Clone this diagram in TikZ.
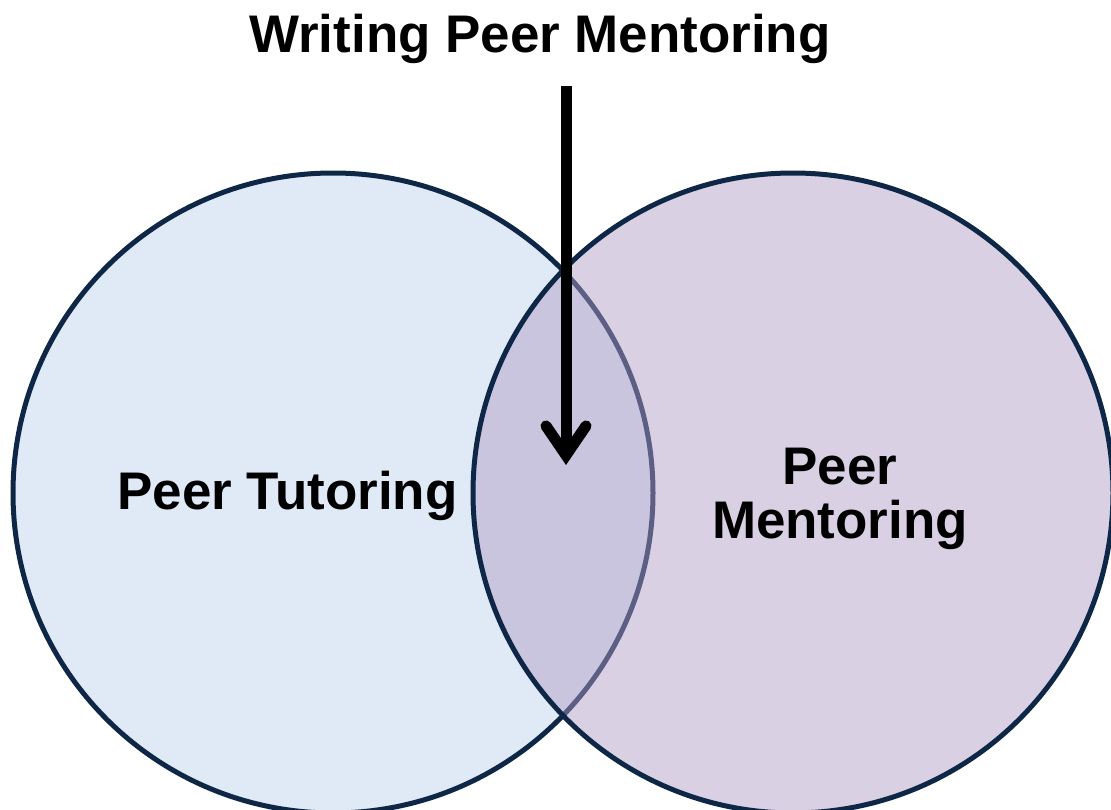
\documentclass[tikz,border=0pt]{standalone}
\usepackage{fontspec}
\setmainfont{Liberation Sans}
\usetikzlibrary{arrows.meta}
\definecolor{navy}{HTML}{0F2746}
\definecolor{lblue}{HTML}{E0EAF6}
\definecolor{rpurp}{RGB}{176,157,199}
\tikzset{
  venn/.style={circle, minimum size=640*0.75pt, inner sep=0pt, draw=navy, line width=3.75pt},
  lbl/.style={font=\fontsize{39.7}{40.5}\selectfont\bfseries, inner sep=0pt, align=center, text=black},
  bigarrow/.style={line width=8.25pt, black, -{Straight Barb[length=22pt, width=30pt, line cap=round, line join=miter]}}
}
\begin{document}
\begin{tikzpicture}[x=0.75pt,y=-0.75pt]
\useasboundingbox (0,0) rectangle (1111,810);
\clip (0,0) rectangle (1111,810);
\node[venn, fill=lblue] (lc) at (333,493) {};
\node[venn, fill=rpurp, fill opacity=0.48] (rc) at (793,493) {};
\node[lbl, anchor=base] (title) at (540,52) {Writing Peer Mentoring};
\node[lbl, anchor=base] (pt) at (287.5,509) {Peer Tutoring};
\node[lbl, anchor=base, align=center] (pm) at (840,538) {Peer\\Mentoring};
\coordinate (as) at (566,86);
\coordinate (ae) at (566,465);
\draw[bigarrow] (as) -- (ae);
\end{tikzpicture}
\end{document}
